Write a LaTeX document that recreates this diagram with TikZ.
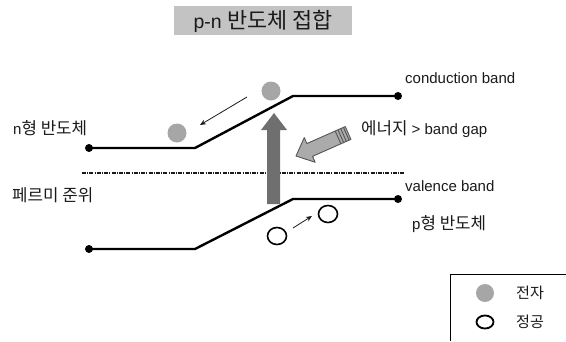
\documentclass[tikz,border=0pt]{standalone}
\usepackage{fontspec}
\setmainfont{Liberation Sans}
\newfontfamily\kr[Scale=1.12]{Noto Sans CJK KR}
\usetikzlibrary{arrows.meta,shapes.geometric}

\definecolor{inkc}{HTML}{1A1A1A}
\definecolor{electronc}{HTML}{A6A6A6}
\definecolor{titlebg}{HTML}{C3C3C3}
\definecolor{pumpc}{HTML}{6F6F6F}
\definecolor{photonc}{HTML}{ABABAB}
\definecolor{photonedge}{HTML}{555555}

\tikzset{
  label/.style={inner sep=0pt, anchor=base west, text=inkc, font=\fontsize{15}{15}\selectfont},
  keylabel/.style={label, font=\fontsize{13.5}{13.5}\selectfont},
  banddot/.style={circle, fill=black, inner sep=0pt, minimum size=8pt},
  band/.style={line width=2.4pt, line join=round},
  electron/.style={circle, fill=electronc, inner sep=0pt, minimum size=19pt},
  hole/.style={ellipse, draw=black, line width=1.6pt, inner sep=0pt, minimum width=19pt, minimum height=17pt},
  drift/.style={-{Stealth[length=6pt,width=5pt]}, line width=0.8pt, inkc},
  fermi/.style={line width=1.1pt, inkc, dash pattern=on 4pt off 1.2pt on 1pt off 1.2pt},
}

\begin{document}
\begin{tikzpicture}[x=1pt, y=-1pt]
\useasboundingbox (0,0) rectangle (566,341);

% title
\fill[titlebg] (174,6) rectangle (352,35);
\node[inner sep=0pt, anchor=base, text=inkc, font=\fontsize{19.5}{19.5}\selectfont] (title) at (263,28.5) {p-n {\kr 반도체 접합}};

% conduction band
\node[banddot] (cbL) at (89,148) {};
\coordinate (cbA) at (195,148);
\coordinate (cbB) at (293,96);
\node[banddot] (cbR) at (398,96) {};
\draw[band] (cbL.center) -- (cbA) -- (cbB) -- (cbR.center);

% valence band
\node[banddot] (vbL) at (89,249) {};
\coordinate (vbA) at (195,249);
\coordinate (vbB) at (293,199);
\node[banddot] (vbR) at (398,199) {};
\draw[band] (vbL.center) -- (vbA) -- (vbB) -- (vbR.center);

% Fermi level
\coordinate (fL) at (82,173);
\coordinate (fR) at (405,173);
\draw[fermi] (fL) -- (fR);

% excitation arrow across the gap
\fill[pumpc] (267,204) -- (267,130) -- (261,130) -- (274,113) -- (287,130) -- (280,130) -- (280,204) -- cycle;

% incoming photon
\begin{scope}[shift={(296,156)}, x={(0.914pt,0.404pt)}, y={(-0.404pt,0.914pt)}]
  \filldraw[fill=photonc, draw=photonedge, line width=0.9pt, line join=round]
    (0,0) -- (15,13.5) -- (15,7) -- (57,7) -- (57,-7) -- (15,-7) -- (15,-13.5) -- cycle;
  \foreach \s in {46,49,52,55}
    \draw[photonedge, line width=0.9pt] (\s,-7) -- (\s,7);
\end{scope}

% carriers
\node[electron] (e1) at (271,91) {};
\node[electron] (e2) at (177,133) {};
\coordinate (e1a) at (247,97);
\coordinate (e2a) at (200,125);
\draw[drift] (e1a) -- (e2a);

\node[hole] (h1) at (277,236) {};
\node[hole] (h2) at (328,214) {};
\coordinate (h1a) at (293,228);
\coordinate (h2a) at (312,216);
\draw[drift] (h1a) -- (h2a);

% labels
\node[label] (lcb) at (405,83) {conduction band};
\node[label] (ln) at (13,134) {n{\kr 형 반도체}};
\node[label] (lgap) at (361,134) {{\kr 에너지} > band gap};
\node[label] (lf) at (12,201) {\kr 페르미 준위};
\node[label] (lvb) at (405,191) {valence band};
\node[label] (lp) at (412,229) {p{\kr 형 반도체}};

% legend
\draw[line width=1pt, black] (566,274) -- (450,274) -- (450,341);
\node[electron, minimum size=18pt] (ke) at (485,293) {};
\node[hole, minimum width=17pt, minimum height=13pt, line width=1.8pt] (kh) at (485,322) {};
\node[keylabel] (kel) at (516,298) {\kr 전자};
\node[keylabel] (khl) at (516,327) {\kr 정공};
\end{tikzpicture}
\end{document}
